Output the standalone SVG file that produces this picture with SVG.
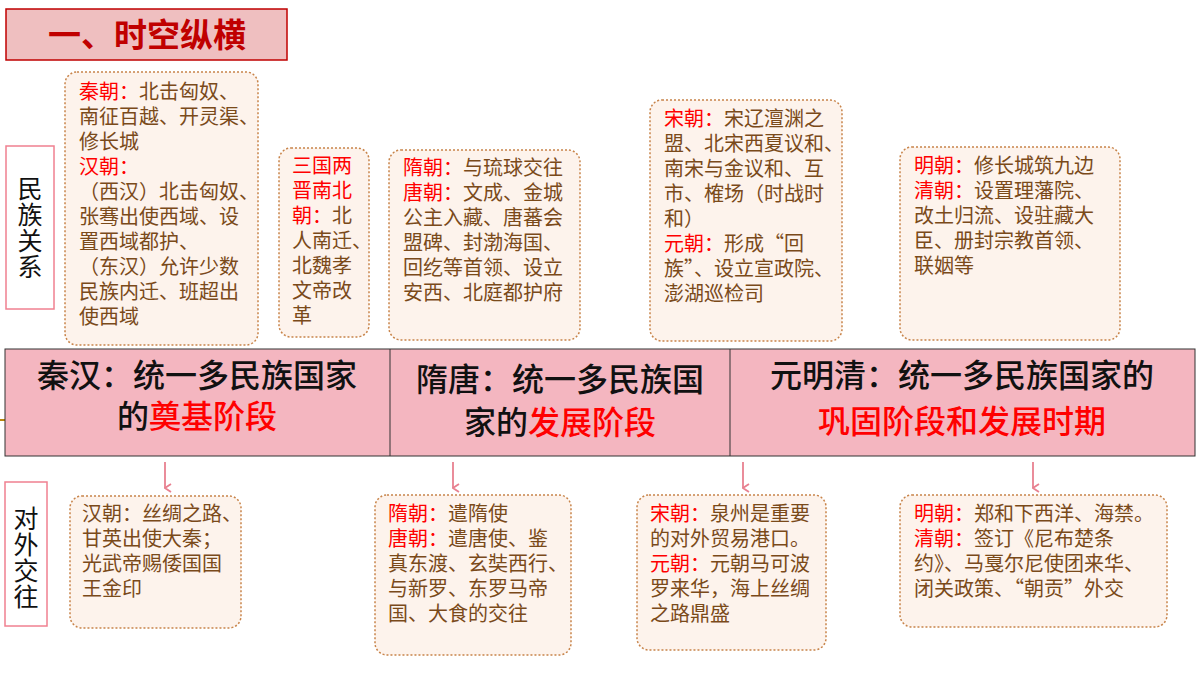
<svg xmlns="http://www.w3.org/2000/svg" width="1200" height="675" viewBox="0 0 1200 675">
<style>
text{font-family:"Noto Sans CJK SC","Noto Sans CJK JP",sans-serif}
.b{fill:#fdf3ec;stroke:#c8844a;stroke-width:1.5;stroke-dasharray:2 2}
.t{font-size:20px;fill:#7a4a1a}
.big{font-size:32px;fill:#111;font-weight:500}
.r{fill:#ff0000}
.lab{fill:#fff;stroke:#f08090;stroke-width:1.5}
.v{font-size:25px;fill:#111}
</style>
<defs><marker id="a" markerWidth="10" markerHeight="10" refX="5" refY="9" orient="auto" markerUnits="userSpaceOnUse"><path d="M1,3 L5,9 L9,3" fill="none" stroke="#e88090" stroke-width="1.8"/></marker></defs>
<rect width="1200" height="675" fill="#fff"/>
<g id="title"><rect x="6" y="9" width="281" height="51" fill="#efbfc0" stroke="#c00000" stroke-width="1.5"/><text x="147" y="47" font-size="33" font-weight="bold" fill="#c00000" text-anchor="middle">一、时空纵横</text></g>
<line x1="0" y1="420" x2="6" y2="420" stroke="#b8860b" stroke-width="2"/>
<g id="lab1"><rect class="lab" x="6" y="146" width="48" height="163"/><text class="v" x="30" y="198" text-anchor="middle">民</text><text class="v" x="30" y="224" text-anchor="middle">族</text><text class="v" x="30" y="250" text-anchor="middle">关</text><text class="v" x="30" y="276" text-anchor="middle">系</text></g>
<g id="lab2"><rect class="lab" x="5" y="482" width="42" height="144"/><text class="v" x="26" y="528" text-anchor="middle">对</text><text class="v" x="26" y="554" text-anchor="middle">外</text><text class="v" x="26" y="580" text-anchor="middle">交</text><text class="v" x="26" y="606" text-anchor="middle">往</text></g>
<g id="band">
<rect x="5" y="349" width="1190" height="107" fill="#f4b6c0" stroke="#333" stroke-width="1"/>
<line x1="390" y1="349" x2="390" y2="456" stroke="#333"/><line x1="730" y1="349" x2="730" y2="456" stroke="#333"/>
<text class="big" x="197" y="387" text-anchor="middle">秦汉：统一多民族国家</text>
<text class="big" x="197" y="428" text-anchor="middle">的<tspan class="r">奠基阶段</tspan></text>
<text class="big" x="560" y="391" text-anchor="middle">隋唐：统一多民族国</text>
<text class="big" x="560" y="434" text-anchor="middle">家的<tspan class="r">发展阶段</tspan></text>
<text class="big" x="962" y="387" text-anchor="middle">元明清：统一多民族国家的</text>
<text class="big" x="962" y="433" text-anchor="middle"><tspan class="r">巩固阶段和发展时期</tspan></text>
</g>
<g id="connectors" stroke="#e88090" stroke-width="1.8" marker-end="url(#a)">
<line x1="165" y1="462" x2="165" y2="488"/><line x1="453" y1="462" x2="453" y2="488"/><line x1="743" y1="462" x2="743" y2="488"/><line x1="1033" y1="462" x2="1033" y2="488"/>
</g>
<g id="n1"><rect class="b" x="65" y="72" width="193" height="273" rx="12"/>
<text class="t" x="79" y="99"><tspan class="r">秦朝：</tspan>北击匈奴、</text>
<text class="t" x="79" y="124">南征百越、开灵渠、</text>
<text class="t" x="79" y="149">修长城</text>
<text class="t" x="79" y="174"><tspan class="r">汉朝：</tspan></text>
<text class="t" x="79" y="199">（西汉）北击匈奴、</text>
<text class="t" x="79" y="224">张骞出使西域、设</text>
<text class="t" x="79" y="249">置西域都护、</text>
<text class="t" x="79" y="274">（东汉）允许少数</text>
<text class="t" x="79" y="299">民族内迁、班超出</text>
<text class="t" x="79" y="324">使西域</text></g>
<g id="n2"><rect class="b" x="279" y="148" width="90" height="189" rx="12"/>
<text class="t" x="292" y="173"><tspan class="r">三国两</tspan></text>
<text class="t" x="292" y="198"><tspan class="r">晋南北</tspan></text>
<text class="t" x="292" y="223"><tspan class="r">朝：</tspan>北</text>
<text class="t" x="292" y="248">人南迁、</text>
<text class="t" x="292" y="273">北魏孝</text>
<text class="t" x="292" y="298">文帝改</text>
<text class="t" x="292" y="323">革</text></g>
<g id="n3"><rect class="b" x="389" y="150" width="191" height="190" rx="12"/>
<text class="t" x="403" y="175"><tspan class="r">隋朝：</tspan>与琉球交往</text>
<text class="t" x="403" y="200"><tspan class="r">唐朝：</tspan>文成、金城</text>
<text class="t" x="403" y="225">公主入藏、唐蕃会</text>
<text class="t" x="403" y="250">盟碑、封渤海国、</text>
<text class="t" x="403" y="275">回纥等首领、设立</text>
<text class="t" x="403" y="300">安西、北庭都护府</text></g>
<g id="n4"><rect class="b" x="650" y="100" width="192" height="241" rx="12"/>
<text class="t" x="664" y="126"><tspan class="r">宋朝：</tspan>宋辽澶渊之</text>
<text class="t" x="664" y="151">盟、北宋西夏议和、</text>
<text class="t" x="664" y="176">南宋与金议和、互</text>
<text class="t" x="664" y="201">市、榷场（时战时</text>
<text class="t" x="664" y="226">和）</text>
<text class="t" x="664" y="251"><tspan class="r">元朝：</tspan>形成“回</text>
<text class="t" x="664" y="276">族”、设立宣政院、</text>
<text class="t" x="664" y="301">澎湖巡检司</text></g>
<g id="n5"><rect class="b" x="900" y="147" width="220" height="193" rx="12"/>
<text class="t" x="914" y="173"><tspan class="r">明朝：</tspan>修长城筑九边</text>
<text class="t" x="914" y="198"><tspan class="r">清朝：</tspan>设置理藩院、</text>
<text class="t" x="914" y="223">改土归流、设驻藏大</text>
<text class="t" x="914" y="248">臣、册封宗教首领、</text>
<text class="t" x="914" y="273">联姻等</text></g>
<g id="m1"><rect class="b" x="70" y="496" width="171" height="132" rx="12"/>
<text class="t" x="82" y="521">汉朝：丝绸之路、</text>
<text class="t" x="82" y="546">甘英出使大秦；</text>
<text class="t" x="82" y="571">光武帝赐倭国国</text>
<text class="t" x="82" y="596">王金印</text></g>
<g id="m2"><rect class="b" x="375" y="495" width="196" height="160" rx="12"/>
<text class="t" x="388" y="521"><tspan class="r">隋朝：</tspan>遣隋使</text>
<text class="t" x="388" y="546"><tspan class="r">唐朝：</tspan>遣唐使、鉴</text>
<text class="t" x="388" y="571">真东渡、玄奘西行、</text>
<text class="t" x="388" y="596">与新罗、东罗马帝</text>
<text class="t" x="388" y="621">国、大食的交往</text></g>
<g id="m3"><rect class="b" x="637" y="495" width="189" height="155" rx="12"/>
<text class="t" x="650" y="521"><tspan class="r">宋朝：</tspan>泉州是重要</text>
<text class="t" x="650" y="546">的对外贸易港口。</text>
<text class="t" x="650" y="571"><tspan class="r">元朝：</tspan>元朝马可波</text>
<text class="t" x="650" y="596">罗来华，海上丝绸</text>
<text class="t" x="650" y="621">之路鼎盛</text></g>
<g id="m4"><rect class="b" x="900" y="495" width="267" height="132" rx="12"/>
<text class="t" x="914" y="521"><tspan class="r">明朝：</tspan>郑和下西洋、海禁。</text>
<text class="t" x="914" y="546"><tspan class="r">清朝：</tspan>签订《尼布楚条</text>
<text class="t" x="914" y="571">约》、马戛尔尼使团来华、</text>
<text class="t" x="914" y="596">闭关政策、“朝贡”外交</text></g>
</svg>
